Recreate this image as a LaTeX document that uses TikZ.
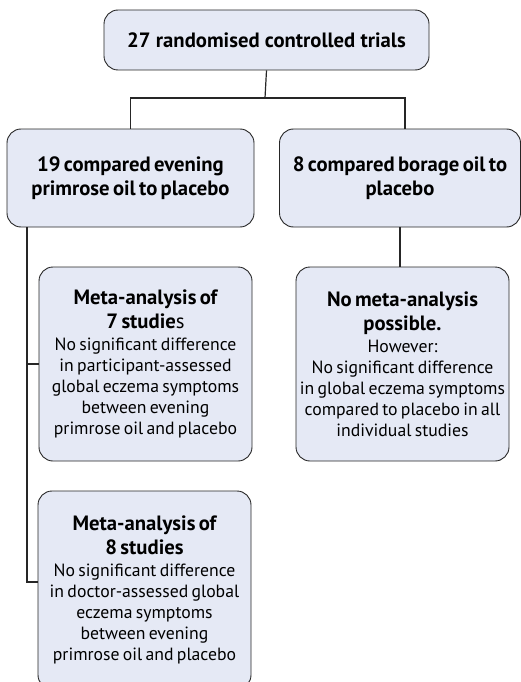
\documentclass[tikz,border=0pt]{standalone}
\usepackage{fontspec}
\setmainfont{PT Sans}
\usetikzlibrary{positioning}
\definecolor{boxfill}{RGB}{229,233,245}
\newcommand{\headfont}{\bfseries\fontsize{20.7}{23.5}\selectfont}
\newcommand{\bodyfont}{\fontsize{17.7}{21}\selectfont}

\begin{document}
\begin{tikzpicture}[x=1pt,y=-1pt,
  box/.style={draw=black!85,line width=0.9pt,fill=boxfill,rounded corners=14pt,
    align=center,inner sep=0pt},
  link/.style={draw=black!85,line width=1.2pt}]
   \useasboundingbox (0,0) rectangle (521,682);
   \node[box,minimum width=325pt,minimum height=60pt] (trials) at (266.5,40)
     {\headfont 27 randomised controlled trials};
   \node[box,minimum width=247pt,minimum height=98pt,text width=246pt] (primrose) at (130.5,178)
     {\headfont 19 compared evening\\ primrose oil to placebo\par};
   \node[box,minimum width=241pt,minimum height=98pt,text width=240pt] (borage) at (400,178)
     {\headfont 8 compared borage oil to\\ placebo\par};
   \node[box,minimum width=213pt,minimum height=194pt,text width=213pt] (metaseven) at (145.5,364)
     {{\headfont Meta-analysis of\\ 7 studie\mdseries s\par}\vspace{1pt}
      {\bodyfont No significant difference\\ in participant-assessed\\
      global eczema symptoms\\ between evening\\
      primrose oil and placebo\par}};
   \node[box,minimum width=213pt,minimum height=194pt,text width=213pt] (nometa) at (402.5,364)
     {{\headfont No meta-analysis\\ possible.\par}\vspace{1pt}
      {\bodyfont However:\\ No significant difference\\
      in global eczema symptoms\\ compared to placebo in all\\
      individual studies\par}};
   \node[box,minimum width=213pt,minimum height=198pt,text width=213pt] (metaeight) at (144.5,590)
     {{\headfont Meta-analysis of\\ 8 studies\par}\vspace{1pt}
      {\bodyfont No significant difference\\ in doctor-assessed global\\
      eczema symptoms\\ between evening\\
      primrose oil and placebo\par}};
   % connectors
   \coordinate (split) at (265,98);
   \coordinate (trunk) at (27,227);
   \draw[link] (trials.south) -- (split);
   \draw[link] (primrose.north) |- (split) -| ([xshift=5pt]borage.north);
   \draw[link] (trunk) |- ([yshift=8pt]metaeight.west);
   \draw[link] (trunk |- metaseven.west) -- (metaseven.west);
   \draw[link] (borage.south) -- (borage.south |- nometa.north);
\end{tikzpicture}
\end{document}
